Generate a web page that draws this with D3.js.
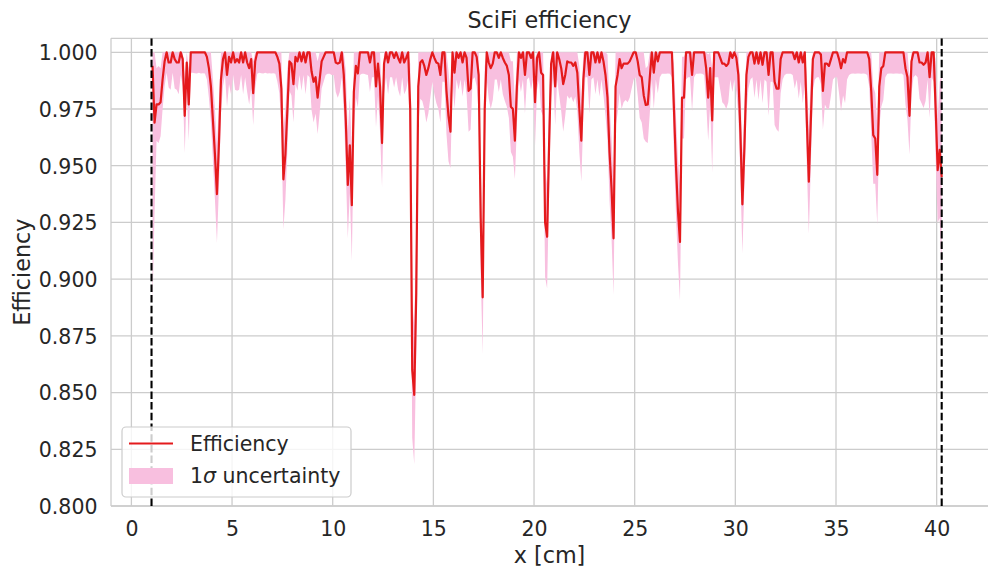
<!DOCTYPE html>
<html>
<head>
<meta charset="utf-8">
<script src="https://cdn.jsdelivr.net/npm/d3@7"></script>
<style>
  html, body { margin: 0; padding: 0; background: #ffffff; }
  svg { display: block; }
  text { font-family: "DejaVu Sans", sans-serif; fill: #262626; }
</style>
</head>
<body>
<svg id="chart" width="988" height="568"></svg>
<script>
// ---- data ----
const binFirst = 1.05;      // centre of the first x bin [cm]
const binWidth = 0.1;       // bin width [cm]
const efficiency = [
  0.994, 0.969, 0.977, 0.977, 0.978, 0.988, 0.996, 1.0, 0.9955, 0.9955,
  1.0, 0.997, 0.9955, 0.9955, 1.0, 0.997, 0.972, 0.9955, 0.977, 1.0,
  1.0, 1.0, 1.0, 1.0, 1.0, 1.0, 1.0, 0.998, 0.993, 0.985,
  0.970, 0.955, 0.9375, 0.960, 0.988, 0.997, 1.0, 0.990, 0.998, 0.9955,
  1.0, 0.9955, 0.997, 0.9955, 1.0, 0.9955, 1.0, 0.9955, 0.993, 0.997,
  0.982, 0.996, 1.0, 1.0, 1.0, 1.0, 1.0, 1.0, 1.0, 1.0,
  1.0, 1.0, 0.998, 0.995, 0.984, 0.944, 0.955, 0.975, 0.996, 0.995,
  0.986, 0.998, 0.996, 1.0, 0.996, 1.0, 0.9955, 1.0, 1.0, 0.9915,
  0.987, 0.989, 0.980, 0.988, 0.996, 0.998, 1.0, 1.0, 1.0, 1.0,
  1.0, 0.9955, 0.995, 0.9955, 1.0, 0.990, 0.970, 0.9415, 0.959, 0.9326,
  0.9826, 0.994, 0.9907, 1.0, 1.0, 1.0, 1.0, 1.0, 0.9955, 1.0,
  1.0, 0.985, 0.995, 0.985, 0.960, 0.995, 1.0, 0.9955, 1.0, 1.0,
  0.9975, 1.0, 0.9975, 0.9955, 1.0, 0.9955, 0.9975, 1.0, 0.975, 0.860,
  0.849, 0.894, 0.985, 0.9955, 0.9965, 0.994, 0.990, 0.993, 0.997, 1.0,
  0.9975, 0.9955, 0.995, 0.990, 1.0, 1.0, 0.983, 0.972, 0.965, 1.0,
  0.991, 1.0, 0.9975, 1.0, 0.9955, 1.0, 0.9975, 0.983, 0.984, 1.0,
  1.0, 0.998, 0.990, 0.927, 0.892, 0.975, 1.0, 0.9955, 0.993, 0.995,
  1.0, 1.0, 0.9975, 1.0, 0.9975, 0.9955, 0.994, 0.990, 0.976, 0.975,
  0.961, 0.985, 1.0, 0.9975, 1.0, 0.990, 1.0, 1.0, 0.9975, 1.0,
  0.978, 0.9975, 1.0, 0.991, 0.990, 0.925, 0.9187, 0.960, 0.995, 1.0,
  0.985, 1.0, 0.997, 0.993, 0.986, 0.990, 0.996, 0.9955, 0.9955, 0.994,
  0.9955, 0.991, 0.975, 0.961, 0.988, 1.0, 1.0, 0.990, 1.0, 1.0,
  0.9955, 1.0, 0.9955, 1.0, 0.996, 0.990, 0.980, 0.956, 0.940, 0.918,
  0.985, 0.990, 0.997, 0.993, 0.995, 0.995, 0.995, 0.996, 0.998, 1.0,
  1.0, 0.996, 0.990, 0.989, 0.981, 0.9768, 0.977, 0.989, 1.0, 0.991,
  1.0, 0.996, 1.0, 1.0, 1.0, 1.0, 1.0, 1.0, 1.0, 0.975,
  0.950, 0.930, 0.9164, 0.980, 0.980, 1.0, 1.0, 1.0, 0.990, 1.0,
  1.0, 1.0, 1.0, 1.0, 1.0, 0.993, 0.980, 0.993, 0.970, 1.0,
  1.0, 1.0, 0.9975, 0.995, 0.995, 0.994, 0.995, 1.0, 0.9975, 1.0,
  0.9975, 0.990, 0.965, 0.933, 0.958, 0.990, 0.998, 1.0, 1.0, 0.995,
  1.0, 0.995, 1.0, 0.9945, 1.0, 1.0, 0.990, 1.0, 1.0, 0.987,
  0.984, 0.984, 0.997, 1.0, 1.0, 1.0, 1.0, 1.0, 1.0, 0.997,
  1.0, 0.9955, 1.0, 0.9955, 1.0, 0.970, 0.943, 0.970, 0.997, 1.0,
  1.0, 1.0, 0.999, 0.983, 0.995, 0.995, 0.994, 0.997, 1.0, 1.0,
  1.0, 0.997, 0.993, 0.997, 0.9955, 1.0, 1.0, 1.0, 1.0, 1.0,
  1.0, 1.0, 1.0, 1.0, 1.0, 1.0, 0.997, 0.983, 0.9635, 0.962,
  0.946, 0.985, 0.993, 0.994, 1.0, 1.0, 1.0, 1.0, 1.0, 1.0,
  1.0, 1.0, 1.0, 1.0, 0.993, 0.989, 0.972, 0.996, 1.0, 1.0,
  1.0, 0.9955, 0.9955, 0.9945, 0.9955, 1.0, 0.989, 1.0, 1.0, 0.975,
  0.948, 0.957, 0.945
];
const sigma = [
  0.105, 0.040, 0.016, 0.017, 0.015, 0.013, 0.011, 0.009, 0.011, 0.012,
  0.009, 0.013, 0.012, 0.014, 0.010, 0.012, 0.0165, 0.012, 0.016, 0.009,
  0.009, 0.0092, 0.0093, 0.009, 0.0094, 0.0092, 0.0093, 0.010, 0.013, 0.016,
  0.018, 0.020, 0.0215, 0.019, 0.015, 0.012, 0.010, 0.014, 0.012, 0.014,
  0.010, 0.012, 0.014, 0.012, 0.010, 0.014, 0.011, 0.013, 0.016, 0.013,
  0.014, 0.012, 0.0095, 0.009, 0.0092, 0.0093, 0.009, 0.0094, 0.0092, 0.0093,
  0.0092, 0.0095, 0.011, 0.013, 0.017, 0.022, 0.020, 0.018, 0.013, 0.014,
  0.017, 0.012, 0.013, 0.010, 0.013, 0.010, 0.014, 0.010, 0.011, 0.017,
  0.018, 0.016, 0.016, 0.015, 0.012, 0.011, 0.010, 0.0095, 0.0095, 0.010,
  0.010, 0.013, 0.015, 0.013, 0.011, 0.016, 0.022, 0.0235, 0.021, 0.0246,
  0.018, 0.014, 0.015, 0.010, 0.0095, 0.0095, 0.0098, 0.010, 0.013, 0.011,
  0.011, 0.018, 0.014, 0.020, 0.0194, 0.013, 0.011, 0.014, 0.011, 0.011,
  0.013, 0.011, 0.014, 0.015, 0.011, 0.014, 0.014, 0.012, 0.020, 0.030,
  0.0305, 0.027, 0.018, 0.016, 0.018, 0.019, 0.021, 0.020, 0.017, 0.013,
  0.016, 0.018, 0.020, 0.021, 0.013, 0.013, 0.019, 0.020, 0.016, 0.013,
  0.016, 0.012, 0.014, 0.012, 0.015, 0.012, 0.016, 0.018, 0.018, 0.012,
  0.011, 0.013, 0.017, 0.024, 0.025, 0.019, 0.012, 0.016, 0.018, 0.016,
  0.012, 0.012, 0.015, 0.012, 0.016, 0.017, 0.018, 0.019, 0.020, 0.021,
  0.017, 0.017, 0.012, 0.015, 0.012, 0.017, 0.012, 0.011, 0.014, 0.012,
  0.019, 0.014, 0.012, 0.017, 0.018, 0.024, 0.0228, 0.020, 0.015, 0.011,
  0.017, 0.012, 0.016, 0.019, 0.021, 0.018, 0.015, 0.016, 0.015, 0.016,
  0.015, 0.017, 0.019, 0.018, 0.016, 0.011, 0.011, 0.017, 0.012, 0.011,
  0.014, 0.012, 0.015, 0.012, 0.015, 0.018, 0.019, 0.0214, 0.022, 0.025,
  0.018, 0.017, 0.015, 0.018, 0.017, 0.016, 0.017, 0.016, 0.014, 0.012,
  0.011, 0.015, 0.019, 0.020, 0.019, 0.0162, 0.017, 0.016, 0.012, 0.016,
  0.012, 0.014, 0.011, 0.0095, 0.0095, 0.0095, 0.0093, 0.0095, 0.011, 0.020,
  0.022, 0.023, 0.0257, 0.018, 0.018, 0.012, 0.011, 0.011, 0.016, 0.011,
  0.0095, 0.0095, 0.0093, 0.0095, 0.010, 0.015, 0.019, 0.016, 0.023, 0.011,
  0.011, 0.011, 0.014, 0.017, 0.018, 0.019, 0.017, 0.012, 0.015, 0.012,
  0.015, 0.018, 0.020, 0.0217, 0.0173, 0.017, 0.014, 0.012, 0.011, 0.015,
  0.012, 0.016, 0.012, 0.017, 0.012, 0.013, 0.018, 0.013, 0.013, 0.019,
  0.018, 0.019, 0.015, 0.012, 0.010, 0.0095, 0.0095, 0.0095, 0.010, 0.013,
  0.012, 0.016, 0.013, 0.018, 0.014, 0.020, 0.023, 0.020, 0.014, 0.012,
  0.011, 0.011, 0.013, 0.017, 0.018, 0.020, 0.019, 0.016, 0.012, 0.011,
  0.011, 0.015, 0.019, 0.016, 0.018, 0.012, 0.010, 0.0095, 0.0093, 0.0095,
  0.0094, 0.0093, 0.0095, 0.0094, 0.0095, 0.010, 0.012, 0.019, 0.0215, 0.020,
  0.022, 0.018, 0.017, 0.015, 0.011, 0.0095, 0.0093, 0.0094, 0.0095, 0.0093,
  0.0094, 0.0095, 0.0093, 0.010, 0.016, 0.019, 0.017, 0.014, 0.011, 0.010,
  0.011, 0.016, 0.018, 0.019, 0.017, 0.012, 0.018, 0.011, 0.013, 0.022,
  0.023, 0.030, 0.045
];
const fiducialLimits = [1.0, 40.25];   // dashed vertical lines [cm]
const xTicks = [0, 5, 10, 15, 20, 25, 30, 35, 40];
const yTicks = [0.800, 0.825, 0.850, 0.875, 0.900, 0.925, 0.950, 0.975, 1.000];
const titleText = "SciFi efficiency";
const xLabel = "x [cm]";
const yLabel = "Efficiency";

// ---- layout ----
const W = 988, H = 568;
const plot = { left: 111, right: 988, top: 38.3, bottom: 506 };
const COLORS = { line: "#e41a1c", band: "#f8bfdf", grid: "#cccccc", text: "#262626" };

const svg = d3.select("#chart");

const x = d3.scaleLinear().domain([-1.013, 42.55]).range([plot.left, plot.right]);
const y = d3.scaleLinear().domain([0.8, 1.00617]).range([plot.bottom, plot.top]);

const data = efficiency.map((e, i) => ({
  x: binFirst + i * binWidth,
  eff: e,
  lo: e - sigma[i],
  hi: Math.min(1, e + sigma[i])
}));

svg.append("defs").append("clipPath").attr("id", "plotclip")
  .append("rect")
  .attr("x", plot.left).attr("y", plot.top)
  .attr("width", plot.right - plot.left).attr("height", plot.bottom - plot.top);

// grid
const gridG = svg.append("g");
gridG.selectAll("line.gx").data(xTicks).join("line")
  .attr("x1", d => x(d)).attr("x2", d => x(d))
  .attr("y1", plot.top).attr("y2", plot.bottom)
  .attr("stroke", COLORS.grid).attr("stroke-width", 1.3);
gridG.selectAll("line.gy").data(yTicks).join("line")
  .attr("x1", plot.left).attr("x2", plot.right)
  .attr("y1", d => y(d)).attr("y2", d => y(d))
  .attr("stroke", COLORS.grid).attr("stroke-width", 1.3);

// spines
svg.append("line").attr("x1", plot.left).attr("x2", plot.left)
  .attr("y1", plot.top).attr("y2", plot.bottom)
  .attr("stroke", COLORS.grid).attr("stroke-width", 1.3);
svg.append("line").attr("x1", plot.left).attr("x2", plot.right)
  .attr("y1", plot.bottom).attr("y2", plot.bottom)
  .attr("stroke", COLORS.grid).attr("stroke-width", 1.3);
svg.append("line").attr("x1", plot.left).attr("x2", plot.right)
  .attr("y1", plot.top).attr("y2", plot.top)
  .attr("stroke", COLORS.grid).attr("stroke-width", 1.3);

const plotG = svg.append("g").attr("clip-path", "url(#plotclip)");

// uncertainty band
const area = d3.area().x(d => x(d.x)).y0(d => y(d.lo)).y1(d => y(d.hi));
plotG.append("path").datum(data)
  .attr("d", area).attr("fill", COLORS.band).attr("stroke", "none");

// efficiency line
const line = d3.line().x(d => x(d.x)).y(d => y(d.eff));
plotG.append("path").datum(data)
  .attr("d", line).attr("fill", "none")
  .attr("stroke", COLORS.line).attr("stroke-width", 2.2)
  .attr("stroke-linejoin", "round");

// dashed fiducial lines
plotG.selectAll("line.fid").data(fiducialLimits).join("line")
  .attr("x1", d => x(d)).attr("x2", d => x(d))
  .attr("y1", plot.top).attr("y2", plot.bottom)
  .attr("stroke", "#000").attr("stroke-width", 2.1)
  .attr("stroke-dasharray", "7.5,3.2");

// axes
const xAxis = d3.axisBottom(x).tickValues(xTicks).tickSize(0).tickPadding(0).tickFormat(d3.format("d"));
const gx = svg.append("g").attr("transform", `translate(0,${plot.bottom})`).call(xAxis);
gx.select(".domain").remove();
gx.selectAll("text").attr("dy", null).attr("y", 30)
  .style("font-size", "20.5px").style("font-family", "DejaVu Sans").attr("fill", COLORS.text);

const yAxis = d3.axisLeft(y).tickValues(yTicks).tickSize(0).tickPadding(0).tickFormat(d3.format(".3f"));
const gy = svg.append("g").attr("transform", `translate(${plot.left},0)`).call(yAxis);
gy.select(".domain").remove();
gy.selectAll("text").attr("x", -13.5).attr("dy", "0.36em")
  .style("font-size", "20.5px").style("font-family", "DejaVu Sans").attr("fill", COLORS.text);

// title & labels
svg.append("text").attr("x", (plot.left + plot.right) / 2).attr("y", 28)
  .attr("text-anchor", "middle").style("font-size", "22.3px").text(titleText);
svg.append("text").attr("x", (plot.left + plot.right) / 2).attr("y", 562.5)
  .attr("text-anchor", "middle").style("font-size", "22.3px").text(xLabel);
svg.append("text")
  .attr("transform", `translate(30,${(plot.top + plot.bottom) / 2}) rotate(-90)`)
  .attr("text-anchor", "middle").style("font-size", "22.3px").text(yLabel);

// legend
const lg = svg.append("g");
lg.append("rect").attr("x", 122).attr("y", 427).attr("width", 229).attr("height", 70)
  .attr("rx", 4).attr("ry", 4)
  .attr("fill", "#ffffff").attr("fill-opacity", 0.8)
  .attr("stroke", "#cccccc").attr("stroke-width", 1.2);
lg.append("line").attr("x1", 129).attr("x2", 173).attr("y1", 443.5).attr("y2", 443.5)
  .attr("stroke", COLORS.line).attr("stroke-width", 2.2);
lg.append("rect").attr("x", 129).attr("y", 468).attr("width", 44).attr("height", 16)
  .attr("fill", COLORS.band);
lg.append("text").attr("x", 190).attr("y", 451).style("font-size", "20.5px").text("Efficiency");
const t2 = lg.append("text").attr("x", 190).attr("y", 482.5).style("font-size", "20.5px");
t2.append("tspan").text("1");
t2.append("tspan").style("font-style", "italic").text("σ");
t2.append("tspan").text(" uncertainty");
</script>
</body>
</html>
